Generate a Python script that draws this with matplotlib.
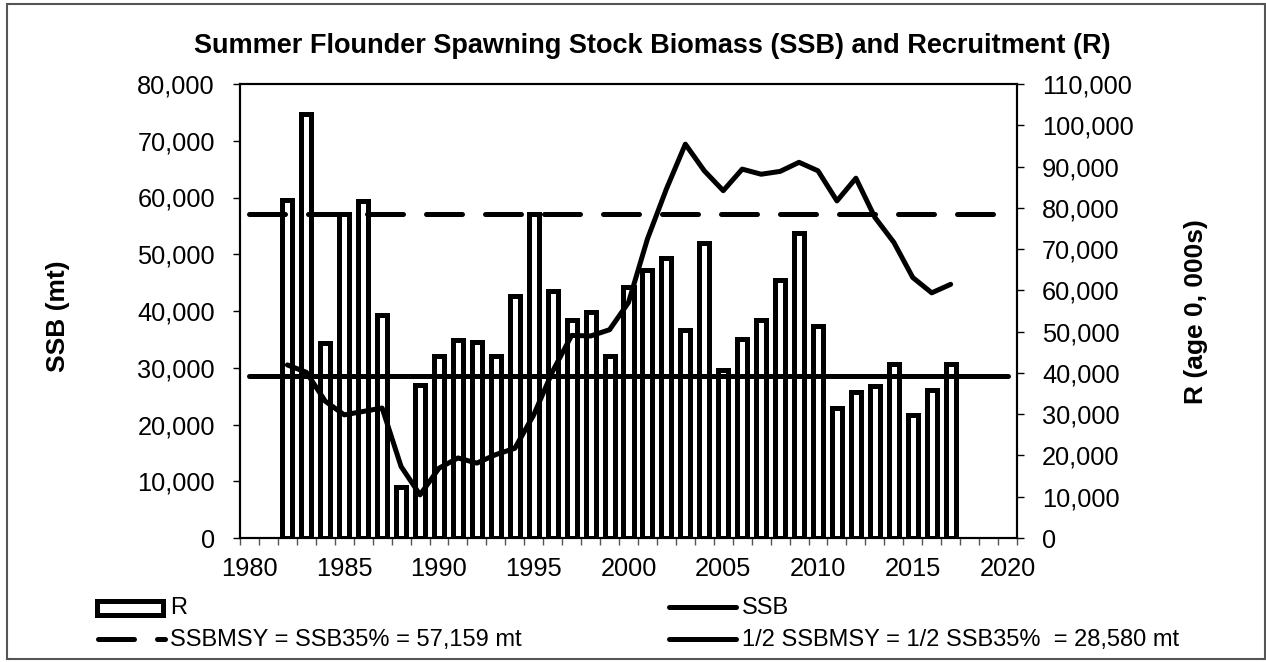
"""Summer flounder SSB and recruitment chart (bars = R, line = SSB)."""

import matplotlib

matplotlib.use("Agg")

import matplotlib.pyplot as plt
from matplotlib.lines import Line2D
from matplotlib.patches import Rectangle
from matplotlib.ticker import FuncFormatter, FixedLocator
import numpy as np

W, H = 1266, 662

years = list(range(1982, 2018))
recruits = [
    82000, 102700, 47300, 78600, 81600, 54100, 12400, 37000, 44200, 47900,
    47500, 44000, 58600, 78600, 59800, 52700, 54700, 44200, 60800, 65000,
    67900, 50300, 71400, 40800, 48200, 52700, 62600, 73800, 51300, 31500,
    35300, 36900, 42200, 29900, 35900, 42200,
]
ssb = [
    30500, 29200, 24100, 21700, 22300, 22900, 12600, 7600, 12300, 14100,
    13200, 14700, 15800, 21700, 29400, 35700, 35600, 36700, 41500, 52700,
    61500, 69400, 64700, 61200, 65000, 64100, 64600, 66200, 64700, 59400,
    63400, 56500, 52100, 45900, 43200, 44700,
]
ssb_msy = 57159
half_ssb_msy = 28580
ref_span = [1980, 2020]
x_labels = [1980, 1985, 1990, 1995, 2000, 2005, 2010, 2015, 2020]

plt.rcParams["font.family"] = ["Liberation Sans", "DejaVu Sans"]

LW = 3.6
DASH = (7.2, 4.6)


def px(x, y):
    return x / W, 1 - y / H


fig = plt.figure(figsize=(W / 100, H / 100), dpi=100)
left, top, right, bottom = 240, 84, 1017, 538
ax = fig.add_axes([left / W, 1 - bottom / H, (right - left) / W, (bottom - top) / H])
ax2 = ax.twinx()
ax.set_zorder(ax2.get_zorder() + 1)
ax.patch.set_visible(False)

ax2.bar(years, recruits, width=0.53, color="white", edgecolor="black", linewidth=LW)

ax.plot(years, ssb, color="black", linewidth=LW, solid_joinstyle="round", solid_capstyle="round")
ax.plot(ref_span, [ssb_msy, ssb_msy], color="black", linewidth=LW,
        linestyle=(0, DASH), dash_capstyle="round")
ax.plot(ref_span, [half_ssb_msy, half_ssb_msy], color="black", linewidth=LW,
        solid_capstyle="round")

ax.set_xlim(1979.5, 2020.5)
ax.set_ylim(0, 80000)
ax2.set_ylim(0, 110000)
ax.set_yticks(np.arange(0, 80001, 10000))
ax2.set_yticks(np.arange(0, 110001, 10000))
fmt = FuncFormatter(lambda v, _: f"{v:,.0f}")
ax.yaxis.set_major_formatter(fmt)
ax2.yaxis.set_major_formatter(fmt)

ax.set_xticks(x_labels)
ax.set_xticklabels([str(x) for x in x_labels])
ax.xaxis.set_minor_locator(FixedLocator(np.arange(1979.5, 2021, 1.0)))
ax.tick_params(axis="x", which="major", length=0, pad=14, labelsize=18.3)
ax.tick_params(axis="x", which="minor", length=5, width=1.0, color="#555555")
ax.tick_params(axis="y", length=5, width=1.0, pad=13, labelsize=18.3)
ax2.tick_params(axis="y", length=5, width=1.0, pad=13, labelsize=18.3)

for a in (ax, ax2):
    for s in a.spines.values():
        s.set_linewidth(1.5)

fig.text(*px(652, 53), "Summer Flounder Spawning Stock Biomass (SSB) and Recruitment (R)",
         ha="center", va="baseline", fontsize=19.5, fontweight="bold")
fig.text(*px(58, 316), "SSB (mt)", rotation=90, ha="center", va="center",
         fontsize=19, fontweight="bold")
fig.text(*px(1196, 312), "R (age 0, 000s)", rotation=90, ha="center", va="center",
         fontsize=19, fontweight="bold")

# legend, drawn by hand so the two columns sit where they do in the source
x0, y0 = px(97, 615)
x1, y1 = px(163, 601)
fig.add_artist(Rectangle((x0, y0), x1 - x0, y1 - y0, transform=fig.transFigure,
                         facecolor="white", edgecolor="black", linewidth=LW))
fig.add_artist(Line2D([px(98, 0)[0], px(165, 0)[0]], [px(0, 639)[1]] * 2,
                      transform=fig.transFigure, color="black", linewidth=LW,
                      linestyle=(0, DASH), dash_capstyle="round"))
fig.add_artist(Line2D([px(669, 0)[0], px(736, 0)[0]], [px(0, 607)[1]] * 2,
                      transform=fig.transFigure, color="black", linewidth=LW,
                      solid_capstyle="round"))
fig.add_artist(Line2D([px(669, 0)[0], px(736, 0)[0]], [px(0, 639)[1]] * 2,
                      transform=fig.transFigure, color="black", linewidth=LW,
                      solid_capstyle="round"))
legend_texts = [
    (170, 608, "R"),
    (170, 640, "SSBMSY = SSB35% = 57,159 mt"),
    (742, 608, "SSB"),
    (742, 640, "1/2 SSBMSY = 1/2 SSB35%  = 28,580 mt"),
]
for lx, ly, txt in legend_texts:
    fig.text(*px(lx, ly), txt, ha="left", va="center", fontsize=17)

bx0, by0 = px(7, 659)
bx1, by1 = px(1265, 4)
fig.add_artist(Rectangle((bx0, by0), bx1 - bx0, by1 - by0, transform=fig.transFigure,
                         fill=False, edgecolor="#555555", linewidth=1.5))

fig.savefig("out.png", dpi=100)
